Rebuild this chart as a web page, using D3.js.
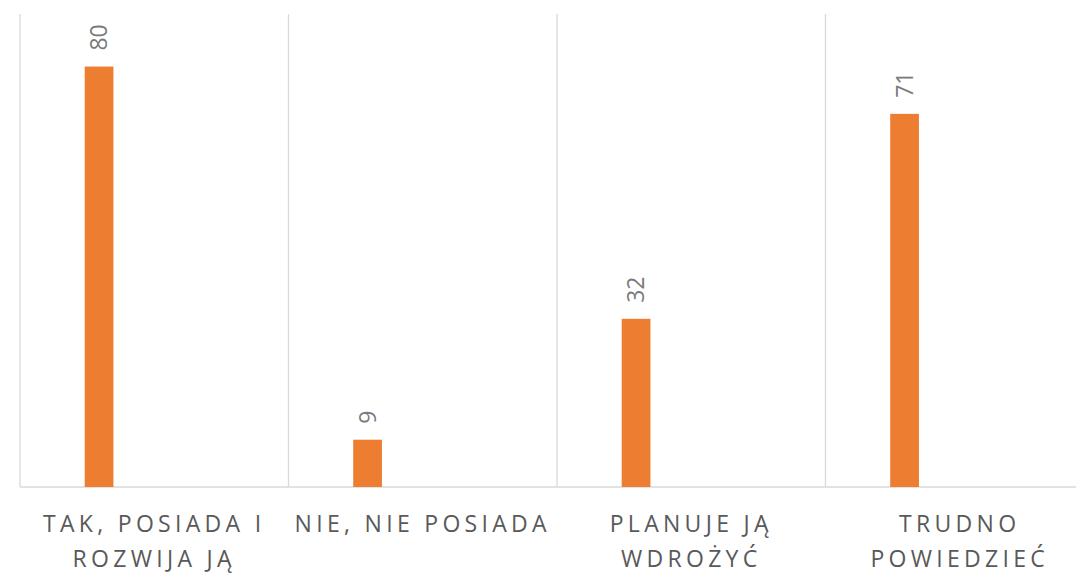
<!DOCTYPE html>
<html>
<head>
<meta charset="utf-8">
<script src="https://cdn.jsdelivr.net/npm/d3@7"></script>
<style>
  body { margin: 0; background: #fff; }
  svg { display: block; }
</style>
</head>
<body>
<svg id="chart" width="1076" height="573"></svg>
<script>
const categories = ['TAK, POSIADA I ROZWIJA JĄ', 'NIE, NIE POSIADA', 'PLANUJE JĄ WDROŻYĆ', 'TRUDNO POWIEDZIEĆ'];
const labelLines = [['TAK, POSIADA I', 'ROZWIJA JĄ'], ['NIE, NIE POSIADA'], ['PLANUJE JĄ', 'WDROŻYĆ'], ['TRUDNO', 'POWIEDZIEĆ']];
const values = [80, 9, 32, 71];

const svg = d3.select('#chart');
const plotLeft = 20;
const bandW = 268.5;
const plotTop = 14;
const plotBottom = 487;

const x = d3.scaleBand()
  .domain(categories)
  .range([plotLeft, plotLeft + bandW * categories.length])
  .padding(0);

const y = d3.scaleLinear().domain([0, 90]).range([plotBottom, plotTop]);

// vertical gridlines at category boundaries
const bounds = categories.map((c) => x(c)).concat([x.range()[1]]);
svg.append('g')
  .selectAll('line')
  .data(bounds)
  .enter()
  .append('line')
  .attr('x1', (d) => d)
  .attr('x2', (d) => d)
  .attr('y1', plotTop)
  .attr('y2', plotBottom)
  .attr('stroke', '#d9d9d9')
  .attr('stroke-width', 1.3);

// baseline
svg.append('line')
  .attr('x1', plotLeft)
  .attr('x2', x.range()[1])
  .attr('y1', plotBottom)
  .attr('y2', plotBottom)
  .attr('stroke', '#d9d9d9')
  .attr('stroke-width', 1.5);

const barOffset = x.bandwidth() * 0.241;
const barW = x.bandwidth() * 0.107;

svg.append('g')
  .selectAll('rect')
  .data(values)
  .enter()
  .append('rect')
  .attr('x', (d, i) => x(categories[i]) + barOffset)
  .attr('y', (d) => y(d))
  .attr('width', barW)
  .attr('height', (d) => y(0) - y(d))
  .attr('fill', '#ed7d31');

// value labels, rotated
svg.append('g')
  .selectAll('text')
  .data(values)
  .enter()
  .append('text')
  .attr('transform', (d, i) => {
    const cx = x(categories[i]) + barOffset + barW / 2 + 8;
    return `translate(${cx},${y(d) - 16}) rotate(-90)`;
  })
  .attr('font-family', '"Open Sans", sans-serif')
  .attr('font-size', 23)
  .attr('fill', '#7a7a7a')
  .text((d) => d);

// category labels
const cat = svg.append('g')
  .selectAll('text')
  .data(categories)
  .enter()
  .append('text')
  .attr('x', (d) => x(d) + x.bandwidth() / 2)
  .attr('y', 532)
  .attr('text-anchor', 'middle')
  .attr('font-family', '"Open Sans", sans-serif')
  .attr('font-size', 23)
  .attr('letter-spacing', 4.3)
  .attr('fill', '#595959');

cat.selectAll('tspan')
  .data((d, i) => labelLines[i])
  .enter()
  .append('tspan')
  .attr('x', function () { return d3.select(this.parentNode).attr('x'); })
  .attr('dy', (d, i) => (i === 0 ? 0 : 35))
  .text((d) => d);
</script>
</body>
</html>
